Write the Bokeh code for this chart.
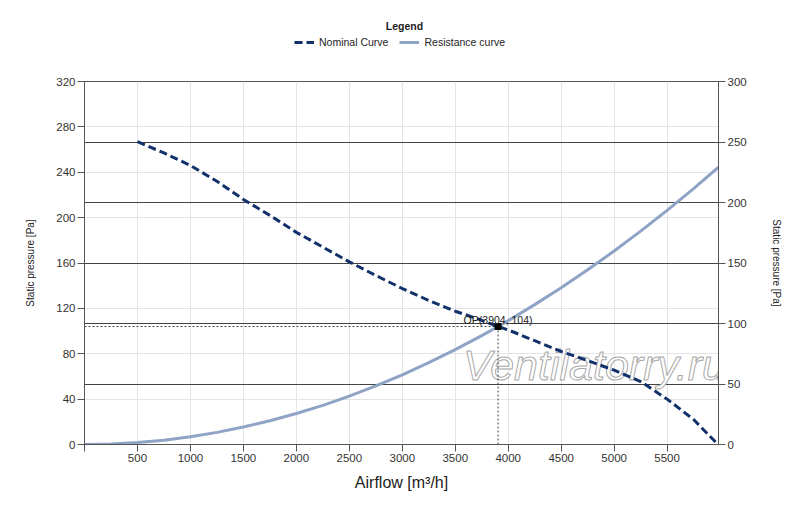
from bokeh.plotting import figure
from bokeh.layouts import column
from bokeh.models import Range1d, LinearAxis, FixedTicker, Grid, Legend, LegendItem, Label
from bokeh.core.properties import value
from bokeh.embed import file_html
from bokeh.resources import INLINE

# ---- data ----
airflow_nominal = [500, 750, 1000, 1250, 1500, 1750, 2000, 2250, 2500, 2750, 3000, 3250,
                   3500, 3750, 3904, 4000, 4250, 4500, 4750, 5000, 5250, 5500, 5750, 5980]
pressure_nominal = [267, 257, 246, 232, 216, 202, 187, 174, 161, 149, 137.5, 127,
                    117.5, 109.5, 104, 101, 91.5, 82, 74, 65.5, 55.5, 40, 22, 0]

airflow_resist = [0, 250, 500, 750, 1000, 1250, 1500, 1750, 2000, 2250, 2500, 2750, 3000,
                  3250, 3500, 3750, 3904, 4000, 4250, 4500, 4750, 5000, 5250, 5500, 5750, 5985]
pressure_resist = [0, 0.4, 1.7, 3.8, 6.8, 10.7, 15.4, 20.9, 27.3, 34.5, 42.7, 51.6, 61.4,
                   72.1, 83.6, 96, 104, 109.2, 123.3, 138.2, 154, 170.6, 188.1, 206.4, 225.6, 244.5]

op_airflow = 3904
op_pressure = 104

x_ticks = [0, 500, 1000, 1500, 2000, 2500, 3000, 3500, 4000, 4500, 5000, 5500]
left_ticks = [0, 40, 80, 120, 160, 200, 240, 280, 320]
right_ticks = [0, 50, 100, 150, 200, 250, 300]

NOM = "#12316b"
RES = "#8ea3c5"
FONT = "Liberation Sans"
W = 792
LEG_H = 72
MAIN_H = 427

# ---------------- legend strip ----------------
lg = figure(width=W, height=LEG_H, output_backend="svg", toolbar_location=None,
            x_range=Range1d(0, 1), y_range=Range1d(0, 1),
            min_border_left=0, min_border_right=0, min_border_top=0, min_border_bottom=0)
lg.axis.visible = False
lg.grid.visible = False
lg.outline_line_color = None
# legend-only sample renderers (kept outside the visible range)
lg_nom = lg.line([-2, -1], [-2, -2], line_color=NOM, line_width=3, line_dash="8 4")
lg_res = lg.line([-2, -1], [-2, -2], line_color=RES, line_width=3)
legend = Legend(items=[LegendItem(label="Nominal Curve", renderers=[lg_nom]),
                       LegendItem(label="Resistance curve", renderers=[lg_res])],
                orientation="horizontal", location=(210, 23), padding=0, margin=0,
                spacing=11, glyph_width=20, glyph_height=14, label_height=14,
                label_standoff=5, border_line_color=None, background_fill_alpha=0,
                label_text_font=FONT, label_text_font_size="10.5px", label_text_color="#222222")
lg.add_layout(legend)
lg.add_layout(Label(x=320, y=47, x_units="screen", y_units="screen", text="Legend",
                    text_font=FONT, text_font_style="bold", text_font_size="10.5px",
                    text_color="#222222", text_align="center", text_baseline="middle"))

# ---------------- main chart ----------------
p = figure(width=W, height=MAIN_H, output_backend="svg", toolbar_location=None,
           x_range=Range1d(0, 5985), y_range=Range1d(0, 320),
           min_border_left=84, min_border_right=74, min_border_top=9, min_border_bottom=55)
p.extra_y_ranges = {"right": Range1d(0, 300)}
p.outline_line_color = "#555555"

p.xaxis.ticker = FixedTicker(ticks=x_ticks)
p.xaxis.major_label_overrides = {0: ""}
p.yaxis.ticker = FixedTicker(ticks=left_ticks)
p.xaxis.axis_label = "Airflow [m³/h]"
p.yaxis.axis_label = "Static pressure [Pa]"

raxis = LinearAxis(y_range_name="right", ticker=FixedTicker(ticks=right_ticks),
                   axis_label="Static pressure [Pa]")
p.add_layout(raxis, "right")

for ax in [p.xaxis[0], p.yaxis[0], raxis]:
    ax.axis_line_color = "#555555"
    ax.major_tick_line_color = "#555555"
    ax.major_tick_out = 7
    ax.major_tick_in = 0
    ax.minor_tick_line_color = None
    ax.major_label_text_font = FONT
    ax.major_label_text_font_size = "11.5px"
    ax.major_label_text_color = "#333333"
    ax.major_label_standoff = 2
    ax.axis_label_text_font = FONT
    ax.axis_label_text_font_style = "normal"
    ax.axis_label_text_color = "#222222"

p.yaxis.axis_label_text_font_size = "10px"
p.yaxis.axis_label_standoff = 17
raxis.axis_label_text_font_size = "10px"
raxis.axis_label_standoff = 21
p.xaxis.axis_label_text_font_size = "16px"
p.xaxis.axis_label_standoff = 9

p.xgrid.ticker = FixedTicker(ticks=x_ticks)
p.xgrid.grid_line_color = "#e4e4e4"
p.ygrid.ticker = FixedTicker(ticks=left_ticks)
p.ygrid.grid_line_color = "#e4e4e4"
rgrid = Grid(dimension=1, ticker=FixedTicker(ticks=right_ticks), y_range_name="right",
             grid_line_color="#444444", grid_line_width=1.2)
p.add_layout(rgrid)

# watermark (outlined, behind the curves)
p.add_layout(Label(x=510, y=80, x_units="screen", y_units="screen", text="Ventilatorry.ru",
                   text_font=FONT, text_font_style="italic", text_font_size="43px",
                   text_color="white", text_alpha=1.0, text_outline_color="#a8a8a8",
                   text_align="center", text_baseline="alphabetic", level="underlay"))

# operating point guides
p.line([0, op_airflow], [op_pressure, op_pressure], line_color="#444444", line_width=1, line_dash="2 2")
p.line([op_airflow, op_airflow], [0, op_pressure], line_color="#444444", line_width=1, line_dash="2 2")

# curves
p.line(airflow_resist, pressure_resist, line_color=RES, line_width=3)
p.line(airflow_nominal, pressure_nominal, line_color=NOM, line_width=3, line_dash="8 4")

p.scatter([op_airflow], [op_pressure], marker="square", size=6, color="black")
p.text(x=[op_airflow], y=[op_pressure], text=[f"OP({op_airflow}, {op_pressure})"],
       text_align="center", text_baseline="alphabetic", y_offset=-7,
       text_font=value(FONT), text_font_size="10.5px", text_color="#222222")

layout = column(lg, p, spacing=0)
open("out.html", "w").write(file_html(layout, INLINE))
